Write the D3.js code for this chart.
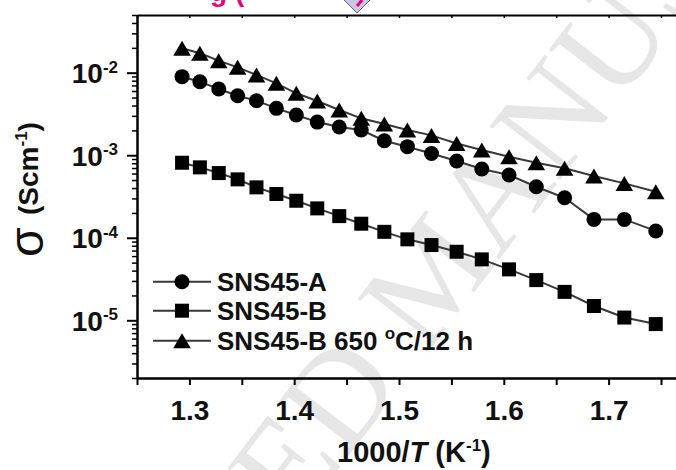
<!DOCTYPE html>
<html>
<head>
<meta charset="utf-8">
<script src="https://cdn.jsdelivr.net/npm/d3@7"></script>
<style>
  body { margin: 0; background: #fff; }
  svg { display: block; font-family: "Liberation Sans", Arial, sans-serif; }
</style>
</head>
<body>
<div id="wrapper"></div>
<script>
// 1000/T values (K^-1), 500 C down to 300 C
const invT = [1.293, 1.310, 1.328, 1.346, 1.364, 1.383, 1.402, 1.422, 1.443, 1.464,
  1.486, 1.508, 1.531, 1.555, 1.579, 1.605, 1.631, 1.658, 1.686, 1.715, 1.745]

// conductivity (S/cm)
const sigmaA = [8.95e-3, 7.78e-3, 6.34e-3, 5.26e-3, 4.58e-3, 3.70e-3, 3.07e-3, 2.52e-3,
  2.20e-3, 2.02e-3, 1.50e-3, 1.27e-3, 1.05e-3, 8.5e-4, 6.8e-4, 5.75e-4, 4.15e-4,
  3.05e-4, 1.67e-4, 1.67e-4, 1.21e-4]
const sigmaB = [8.11e-4, 7.13e-4, 6.08e-4, 5.10e-4, 4.08e-4, 3.39e-4, 2.81e-4, 2.27e-4,
  1.83e-4, 1.48e-4, 1.18e-4, 9.57e-5, 8.16e-5, 6.77e-5, 5.47e-5, 4.14e-5, 3.07e-5,
  2.21e-5, 1.49e-5, 1.08e-5, 9.0e-6]
const sigmaBAnnealed = [1.98e-2, 1.72e-2, 1.40e-2, 1.16e-2, 9.4e-3, 7.44e-3, 5.63e-3,
  4.54e-3, 3.53e-3, 2.80e-3, 2.39e-3, 2.02e-3, 1.74e-3, 1.39e-3, 1.16e-3, 9.6e-4,
  8.11e-4, 6.94e-4, 5.60e-4, 4.56e-4, 3.61e-4]

const seriesNames = ["SNS45-A", "SNS45-B", "SNS45-B 650 "]
const seriesShapes = ["circle", "square", "triangle"]

const xMajorTicks = [1.3, 1.4, 1.5, 1.6, 1.7]
const xMinorTicks = [1.25, 1.35, 1.45, 1.55, 1.65, 1.75]
const yDecades = [-5, -4, -3, -2]

function drawChart() {
  const dimensions = { width: 676, height: 470, left: 137, top: 15, bottom: 378 }

  const svg = d3.select("#wrapper").append("svg")
      .attr("width", dimensions.width)
      .attr("height", dimensions.height)

  // watermark behind everything
  svg.append("text")
      .attr("transform", "translate(-20,936) rotate(-52.5)")
      .attr("font-family", "'Liberation Serif', 'Times New Roman', serif")
      .attr("font-size", 135)
      .attr("fill", "#e6e6e6")
      .text("ACCEPTED MANUSCRIPT")

  // cut-off bits of the panel title above the frame
  svg.append("text")
      .attr("x", 210).attr("y", 1)
      .attr("font-size", 28).attr("font-weight", "bold")
      .attr("fill", "#e6007e")
      .text("g (")
  svg.append("path")
      .attr("d", "M342,-2 L357,13 L372,-2 Z")
      .attr("fill", "#cdc5e6").attr("stroke", "#666").attr("stroke-width", 1)
  svg.append("path")
      .attr("d", "M362,0 L357,6")
      .attr("stroke", "#e6007e").attr("stroke-width", 3)

  const xScale = d3.scaleLinear()
      .domain([1.25, 1.8])
      .range([dimensions.left, dimensions.left + 0.55 * 1048])
  const yScale = d3.scaleLog()
      .domain([2e-6, 5e-2])
      .range([dimensions.bottom, dimensions.top])

  // minor y ticks 2..9 x 10^n inside the domain
  const yMinor = []
  for (let e = -6; e <= -2; e++) {
    for (let m = 2; m <= 9; m++) {
      const v = m * Math.pow(10, e)
      if (v >= 2e-6 * 0.999 && v <= 5e-2 * 1.001) yMinor.push(v)
    }
  }

  // top frame line with small inward ticks
  const topAxis = svg.append("g")
      .attr("transform", `translate(0,${dimensions.top})`)
      .call(d3.axisBottom(xScale).tickValues(xMajorTicks.concat(xMinorTicks))
        .tickSizeInner(3).tickSizeOuter(0).tickFormat(""))
  topAxis.select(".domain").attr("stroke-width", 2)
  topAxis.selectAll(".tick line").attr("stroke-width", 1.5)

  // bottom axis
  const xAxisMinor = svg.append("g")
      .attr("transform", `translate(0,${dimensions.bottom})`)
      .call(d3.axisBottom(xScale).tickValues(xMinorTicks)
        .tickSizeInner(7).tickSizeOuter(0).tickFormat(""))
  xAxisMinor.select(".domain").remove()
  xAxisMinor.selectAll(".tick line").attr("stroke-width", 2)

  const xAxis = svg.append("g")
      .attr("transform", `translate(0,${dimensions.bottom})`)
      .call(d3.axisBottom(xScale).tickValues(xMajorTicks)
        .tickSizeInner(7).tickSizeOuter(0).tickPadding(15)
        .tickFormat(d3.format(".1f")))
  xAxis.select(".domain").attr("stroke-width", 2.5)
  xAxis.selectAll(".tick line").attr("stroke-width", 2)
  xAxis.selectAll(".tick text")
      .attr("font-size", 28).attr("font-weight", "bold")
      .attr("fill", "#111")
      .attr("font-family", "'Liberation Sans', Arial, sans-serif")

  // left axis
  const yAxisMinor = svg.append("g")
      .attr("transform", `translate(${dimensions.left},0)`)
      .call(d3.axisLeft(yScale).tickValues(yMinor)
        .tickSizeInner(5).tickSizeOuter(0).tickFormat(""))
  yAxisMinor.select(".domain").remove()
  yAxisMinor.selectAll(".tick line").attr("stroke-width", 1.5)

  const yAxis = svg.append("g")
      .attr("transform", `translate(${dimensions.left},0)`)
      .call(d3.axisLeft(yScale).tickValues(yDecades.map(e => Math.pow(10, e)))
        .tickSizeInner(10).tickSizeOuter(0).tickFormat(""))
  yAxis.select(".domain").attr("stroke-width", 2.5)
  yAxis.selectAll(".tick line").attr("stroke-width", 2)

  const yLabels = svg.append("g")
  yDecades.forEach(e => {
    const t = yLabels.append("text")
        .attr("x", dimensions.left - 19)
        .attr("y", yScale(Math.pow(10, e)) + 10.6)
        .attr("text-anchor", "end")
        .attr("font-weight", "bold")
        .attr("fill", "#111")
    t.append("tspan").attr("font-size", 28).text("10")
    t.append("tspan").attr("font-size", 17).attr("dy", -10.6).text(e)
  })

  // data lines and markers
  const allSeries = [sigmaA, sigmaB, sigmaBAnnealed]
  const line = d3.line()
      .x((d, i) => xScale(invT[i]))
      .y(d => yScale(d))

  const markerPath = shape => {
    if (shape === "circle") return d3.symbol(d3.symbolCircle, 177)()
    if (shape === "square") return d3.symbol(d3.symbolSquare, 196)()
    return "M0,-7.5 L8.8,7.5 L-8.8,7.5 Z"
  }

  allSeries.forEach((values, k) => {
    svg.append("path")
        .attr("d", line(values))
        .attr("fill", "none")
        .attr("stroke", "#383838")
        .attr("stroke-width", 2)
    svg.append("g").selectAll("path")
        .data(values)
      .enter().append("path")
        .attr("d", markerPath(seriesShapes[k]))
        .attr("transform", (d, i) => `translate(${xScale(invT[i])},${yScale(d)})`)
        .attr("fill", "#000")
  })

  // legend
  const legendRows = [281.7, 310.7, 340.7]
  const legend = svg.append("g")
  seriesNames.forEach((name, k) => {
    const y = legendRows[k]
    legend.append("line")
        .attr("x1", 153).attr("x2", 211).attr("y1", y).attr("y2", y)
        .attr("stroke", "#383838").attr("stroke-width", 2)
    legend.append("path")
        .attr("d", markerPath(seriesShapes[k]))
        .attr("transform", `translate(182,${y})`)
        .attr("fill", "#000")
    const t = legend.append("text")
        .attr("x", 217).attr("y", y + 9)
        .attr("font-size", 26).attr("font-weight", "bold")
        .attr("fill", "#111")
        .attr("xml:space", "preserve")
        .style("white-space", "pre")
        .text(name)
    if (k === 2) {
      t.append("tspan").attr("font-size", 17).attr("dy", -11).text("o")
      t.append("tspan").attr("dy", 11).text("C/12 h")
    }
  })

  // axis titles
  const xTitle = svg.append("text")
      .attr("x", 337).attr("y", 461.7)
      .attr("font-size", 29).attr("font-weight", "bold")
      .attr("fill", "#111")
  xTitle.append("tspan").text("1000/")
  xTitle.append("tspan").attr("font-style", "italic").text("T")
  xTitle.append("tspan").text(" (K")
  xTitle.append("tspan").attr("font-size", 17).attr("dy", -11).text("-1")
  xTitle.append("tspan").attr("dy", 11).text(")")

  const yTitle = svg.append("text")
      .attr("transform", "translate(37.5,257) rotate(-90)")
      .attr("fill", "#111")
  yTitle.append("tspan").attr("font-size", 48).attr("dy", 5.5).text("σ")
  yTitle.append("tspan").attr("x", 42).attr("dy", -5.5)
      .attr("font-size", 28).attr("font-weight", "bold").text("(Scm")
  yTitle.append("tspan").attr("font-size", 17).attr("font-weight", "bold")
      .attr("dy", -11).text("-1")
  yTitle.append("tspan").attr("font-size", 28).attr("font-weight", "bold")
      .attr("dy", 11).text(")")
}
drawChart()
</script>
</body>
</html>
